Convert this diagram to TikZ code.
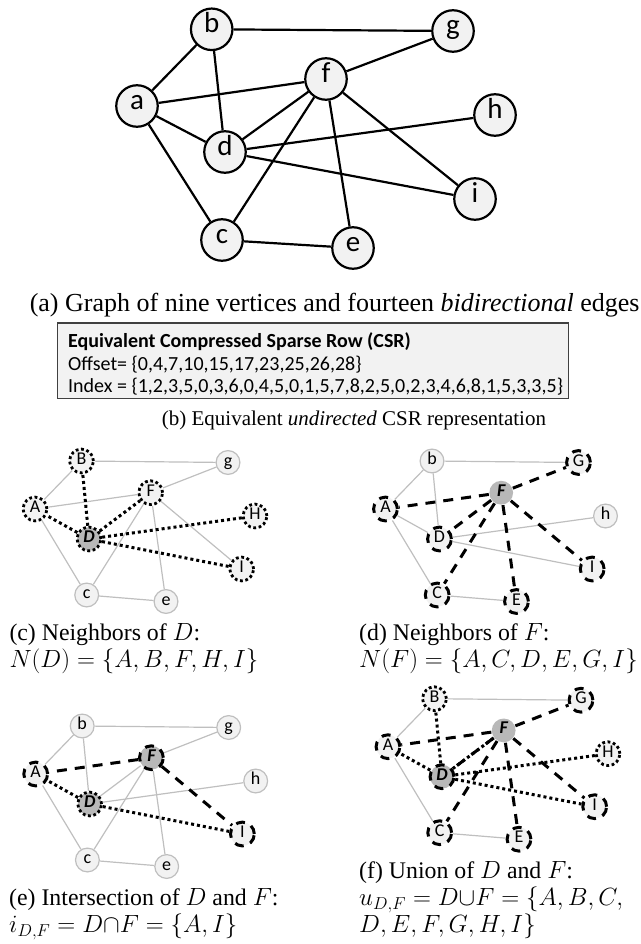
\documentclass[tikz,border=0pt]{standalone}
\usepackage{fontspec}
\setmainfont{Liberation Serif}
\newfontfamily\lab{Carlito}
\definecolor{nodegray}{HTML}{F2F2F2}
\definecolor{lgray}{HTML}{BFBFBF}
\definecolor{hubgray}{HTML}{B8B8B8}
\definecolor{boxline}{HTML}{404040}

% vertex positions of the small graphs (panel c frame)
\def\ptA{35,509}
\def\ptB{81.5,461}
\def\ptC{86.7,595}
\def\ptD{89,539}
\def\ptE{166,601.5}
\def\ptF{150.7,492.7}
\def\ptG{228,462.5}
\def\ptH{255,516}
\def\ptI{241.7,569}

\tikzset{
  bignode/.style={circle, draw=black, line width=2.2pt, fill=nodegray,
    minimum size=41.5pt, inner sep=0pt,
    font=\lab\fontsize{29}{30}\selectfont, text height=0.7em, text depth=0pt},
  bigedge/.style={draw=black, line width=2.2pt},
  sm/.style={circle, draw=lgray, line width=1.2pt, fill=nodegray,
    minimum size=23.8pt, inner sep=0pt,
    font=\lab\fontsize{18}{19}\selectfont, text height=0.7em, text depth=0pt},
  hub/.style={fill=hubgray, font=\lab\bfseries\itshape\fontsize{18}{19}\selectfont},
  dotring/.style={draw=black, line width=2.8pt, dash pattern=on 2.8pt off 2.6pt},
  dashring/.style={draw=black, line width=3pt, dash pattern=on 9pt off 7pt},
  gedge/.style={draw=lgray, line width=1.2pt},
  dotedge/.style={draw=black, line width=3pt, dash pattern=on 3pt off 3pt},
  dashedge/.style={draw=black, line width=3pt, dash pattern=on 10pt off 8pt},
  subcap/.style={anchor=west, inner sep=0pt, text height=0.72em, text depth=0.2em,
    font=\fontsize{23.8}{27}\selectfont},
  csrtext/.style={anchor=west, inner sep=0pt, font=\lab\fontsize{20}{22}\selectfont},
}

\begin{document}
\begin{tikzpicture}[x=1pt,y=-1pt]
\useasboundingbox (0,0) rectangle (640,944);

% ---------- (a) full graph ----------
\node[bignode] (a) at (137,106) {a};
\node[bignode] (b) at (211.7,29.3) {b};
\node[bignode] (c) at (222,240) {c};
\node[bignode] (d) at (225,152) {d};
\node[bignode] (e) at (353,248) {e};
\node[bignode] (f) at (326,79) {f};
\node[bignode] (g) at (453,31) {g};
\node[bignode] (h) at (495,115) {h};
\node[bignode] (i) at (475,199) {i};
\foreach \u/\v in {a/b,a/f,a/d,a/c,b/g,b/d,g/f,f/d,f/c,f/e,f/i,d/h,d/i,c/e}
  \draw[bigedge] (\u) -- (\v);

\node[font=\fontsize{26}{30}\selectfont] (capa) at (334.7,305)
  {(a) Graph of nine vertices and fourteen \textit{bidirectional} edges};

% ---------- (b) CSR box ----------
\node[draw=boxline, fill=nodegray, line width=1.5pt, anchor=north west,
  minimum width=511pt, minimum height=75.5pt, inner sep=0pt] (csr) at (56.5,322) {};
\node[csrtext, font=\lab\bfseries\fontsize{20}{22}\selectfont] (csr1) at (68,342)
  {Equivalent Compressed Sparse Row (CSR)};
\node[csrtext] (csr2) at (68,364.5) {Offset= \{0,4,7,10,15,17,23,25,26,28\}};
\node[csrtext] (csr3) at (68,387)
  {Index = \{1,2,3,5,0,3,6,0,4,5,0,1,5,7,8,2,5,0,2,3,4,6,8,1,5,3,3,5\}};

\node[font=\fontsize{21}{25}\selectfont] (capb) at (354,420)
  {(b) Equivalent \textit{undirected} CSR representation};

% ---------- (c) neighbours of D ----------
\begin{scope}
\node[sm,dotring] (cA) at (\ptA) {A};
\node[sm,dotring] (cB) at (\ptB) {B};
\node[sm] (cC) at (\ptC) {c};
\node[sm,hub,dotring] (cD) at (\ptD) {D};
\node[sm] (cE) at (\ptE) {e};
\node[sm,dotring] (cF) at (\ptF) {F};
\node[sm] (cG) at (\ptG) {g};
\node[sm,dotring] (cH) at (\ptH) {H};
\node[sm,dotring] (cI) at (\ptI) {I};
\foreach \u/\v in {A/B,A/F,A/C,B/G,G/F,F/C,F/E,F/I,C/E}
  \draw[gedge] (c\u) -- (c\v);
\foreach \v in {A,B,F,H,I}
  \draw[dotedge] (cD) -- (c\v);
\end{scope}
\node[subcap] (capc1) at (9.3,638) {(c) Neighbors of $D$:};
\node[subcap] (capc2) at (9.3,665) {$N(D) = \{A, B, F, H, I\}$};

% ---------- (d) neighbours of F ----------
\begin{scope}[shift={(350.5,0)}]
\node[sm,dashring] (dA) at (\ptA) {A};
\node[sm] (dB) at (\ptB) {b};
\node[sm,dashring] (dC) at (\ptC) {C};
\node[sm,dashring] (dD) at (\ptD) {D};
\node[sm,dashring] (dE) at (\ptE) {E};
\node[sm,hub,draw=none] (dF) at (\ptF) {F};
\node[sm,dashring] (dG) at (\ptG) {G};
\node[sm] (dH) at (\ptH) {h};
\node[sm,dashring] (dI) at (\ptI) {I};
\foreach \u/\v in {A/B,A/D,A/C,B/G,B/D,D/H,D/I,C/E}
  \draw[gedge] (d\u) -- (d\v);
\foreach \v in {A,C,D,E,G,I}
  \draw[dashedge] (dF) -- (d\v);
\end{scope}
\node[subcap] (capd1) at (359,638) {(d) Neighbors of $F$:};
\node[subcap] (capd2) at (359,665) {$N(F) = \{A, C, D, E, G, I\}$};

% ---------- (e) intersection ----------
\begin{scope}[shift={(0.7,265)}]
\node[sm,dashring] (eA) at (\ptA) {A};
\node[sm] (eB) at (\ptB) {b};
\node[sm] (eC) at (\ptC) {c};
\node[sm,hub,dotring] (eD) at (\ptD) {D};
\node[sm] (eE) at (\ptE) {e};
\node[sm,hub,dashring] (eF) at (\ptF) {F};
\node[sm] (eG) at (\ptG) {g};
\node[sm] (eH) at (\ptH) {h};
\node[sm,dashring] (eI) at (\ptI) {I};
\foreach \u/\v in {A/B,A/C,B/G,B/D,G/F,F/D,F/C,F/E,D/H,C/E}
  \draw[gedge] (e\u) -- (e\v);
\draw[dashedge] (eF) -- (eA);
\draw[dashedge] (eF) -- (eI);
\draw[dotedge] (eD) -- (eA);
\draw[dotedge] (eD) -- (eI);
\end{scope}
\node[subcap] (cape1) at (9,903) {(e) Intersection of $D$ and $F$:};
\node[subcap] (cape2) at (9,930) {$i_{D,F} = D{\cap}F = \{A, I\}$};

% ---------- (f) union ----------
\begin{scope}[shift={(353,237.7)}]
\node[sm,dashring] (fA) at (\ptA) {A};
\node[sm,dotring] (fB) at (\ptB) {B};
\node[sm,dashring] (fC) at (\ptC) {C};
\node[sm,hub,dashring] (fD) at (\ptD) {D};
\node[sm,dashring] (fE) at (\ptE) {E};
\node[sm,hub,draw=none] (fF) at (\ptF) {F};
\node[sm,dashring] (fG) at (\ptG) {G};
\node[sm,dotring] (fH) at (\ptH) {H};
\node[sm,dashring] (fI) at (\ptI) {I};
\foreach \u/\v in {A/B,A/C,B/G,C/E}
  \draw[gedge] (f\u) -- (f\v);
\foreach \v in {A,B,F,H,I}
  \draw[dotedge] (fD) -- (f\v);
\foreach \v in {A,C,D,E,G,I}
  \draw[dashedge] (fF) -- (f\v);
\end{scope}
\node[subcap] (capf1) at (359,876) {(f) Union of $D$ and $F$:};
\node[subcap] (capf2) at (359,903) {$u_{D,F} = D{\cup}F = \{A, B, C,$};
\node[subcap] (capf3) at (359,930) {$D, E, F, G, H, I\}$};
\end{tikzpicture}
\end{document}
